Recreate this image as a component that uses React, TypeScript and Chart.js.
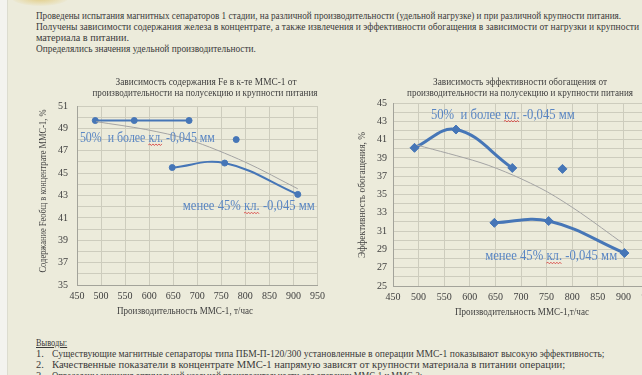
import { useEffect, useLayoutEffect, useRef } from 'react';
import { Chart, registerables } from 'chart.js';

Chart.register(...registerables);

// ---------- data ----------
const xMin = 450;
const xMax = 950;
const xStep = 50;

// Chart 1: Fe content in concentrate
const feYMin = 35;
const feYMax = 51;
const feCoarseX = [488, 569, 683];
const feCoarseY = [49.7, 49.7, 49.7];
const feFineX = [648, 757, 909];
const feFineY = [45.5, 45.9, 43.1];
const feOutlierX = [781];
const feOutlierY = [48.0];
const feTrendX = [490, 593, 682, 799, 909];
const feTrendY = [49.6, 48.9, 48.0, 46.0, 43.6];

// Chart 2: beneficiation efficiency
const effYMin = 25;
const effYMax = 45;
const effCoarseX = [492, 573, 683];
const effCoarseY = [40.1, 42.1, 37.9];
const effFineX = [648, 754, 902];
const effFineY = [31.9, 32.1, 28.6];
const effOutlierX = [781];
const effOutlierY = [37.8];
const effTrendX = [497, 620, 685, 751, 816, 898];
const effTrendY = [40.4, 38.5, 37.1, 35.3, 33.0, 29.7];

const labelCoarse = '50%  и более кл. -0,045 мм';
const labelFine = 'менее 45% кл. -0,045 мм';

// ---------- styles ----------
const FONT = "'Liberation Serif', 'Times New Roman', serif";
const BG = '#ecebdb';
const GRID = '#cdccbd';
const AXIS = '#a3a39a';
const TICK = '#3f3f3f';
const BLUE = '#4676b7';
const LABEL_BLUE = '#5a86c3';
const TREND = '#a4a4a4';
const TEXT = '#3a3a3a';

type Caption = {
  text: string;
  size: number;
  color: string;
  x?: number;
  y?: number;
  dataX?: number;
  dataY?: number;
  align?: CanvasTextAlign;
  maxWidth?: number;
  rotate?: boolean;
  squiggle?: string;
};

function captionPlugin(items: Caption[]) {
  return {
    id: 'captions',
    afterDraw(chart: any) {
      const ctx = chart.ctx as CanvasRenderingContext2D;
      for (const c of items) {
        let x = c.x ?? 0;
        let y = c.y ?? 0;
        if (c.dataX !== undefined && c.dataY !== undefined) {
          x = chart.scales.x.getPixelForValue(c.dataX);
          y = chart.scales.y.getPixelForValue(c.dataY);
        }
        ctx.save();
        ctx.font = `${c.size}px ${FONT}`;
        ctx.fillStyle = c.color;
        ctx.textAlign = c.align ?? 'center';
        ctx.textBaseline = 'middle';
        ctx.translate(x, y);
        if (c.rotate) ctx.rotate(-Math.PI / 2);
        if (c.maxWidth) ctx.fillText(c.text, 0, 0, c.maxWidth);
        else ctx.fillText(c.text, 0, 0);
        if (c.squiggle && (c.align ?? 'center') === 'left') {
          const idx = c.text.indexOf(c.squiggle);
          if (idx >= 0) {
            const natural = ctx.measureText(c.text).width;
            const k = c.maxWidth ? Math.min(1, c.maxWidth / natural) : 1;
            const x0 = ctx.measureText(c.text.slice(0, idx)).width * k;
            const x1 = x0 + ctx.measureText(c.squiggle).width * k;
            const yy = c.size * 0.45;
            ctx.strokeStyle = '#d9534f';
            ctx.lineWidth = 1;
            ctx.beginPath();
            let up = true;
            ctx.moveTo(x0, yy);
            for (let px = x0 + 1.5; px <= x1; px += 1.5) {
              ctx.lineTo(px, yy + (up ? -0.8 : 0.8));
              up = !up;
            }
            ctx.stroke();
          }
        }
        ctx.restore();
      }
    },
  };
}

const pts = (xs: number[], ys: number[]) => xs.map((x, i) => ({ x, y: ys[i] }));

type Spec = {
  yMin: number;
  yMax: number;
  coarse: { x: number; y: number }[];
  fine: { x: number; y: number }[];
  outlier: { x: number; y: number }[];
  trend: { x: number; y: number }[];
  lineWidth: number;
  pointStyle: string;
  pointRadius: number;
  padTop: number;
  padRight: number;
  yWidth: number;
  xHeight: number;
  yTickPad: number;
  captions: Caption[];
};

function buildConfig(s: Spec): any {
  const tickFont = { family: FONT, size: 10 };
  const series = (data: { x: number; y: number }[], showLine = true) => ({
    data,
    showLine,
    borderColor: BLUE,
    backgroundColor: BLUE,
    borderWidth: s.lineWidth,
    pointStyle: s.pointStyle,
    pointRadius: s.pointRadius,
    pointBorderWidth: 1,
    tension: 0.4,
    fill: false,
  });
  return {
    type: 'line',
    data: {
      datasets: [
        {
          data: s.trend,
          borderColor: TREND,
          borderWidth: 1,
          pointRadius: 0,
          tension: 0.3,
          fill: false,
        },
        series(s.coarse),
        series(s.fine),
        series(s.outlier, false),
      ],
    },
    options: {
      responsive: false,
      animation: false,
      devicePixelRatio: 1,
      events: [],
      layout: { padding: { top: s.padTop, right: s.padRight, left: 0, bottom: 0 } },
      plugins: {
        legend: { display: false },
        tooltip: { enabled: false },
        title: { display: false },
      },
      scales: {
        x: {
          type: 'linear',
          min: xMin,
          max: xMax,
          ticks: {
            stepSize: xStep,
            autoSkip: false,
            maxRotation: 0,
            padding: 5,
            color: TICK,
            font: tickFont,
          },
          grid: { color: GRID, drawTicks: false },
          border: { color: AXIS },
          afterFit: (sc: any) => {
            sc.height = s.xHeight;
          },
        },
        y: {
          type: 'linear',
          min: s.yMin,
          max: s.yMax,
          ticks: {
            stepSize: 1,
            autoSkip: false,
            padding: s.yTickPad,
            color: TICK,
            font: tickFont,
            callback: (v: number) => ((v - s.yMin) % 2 === 0 ? String(v) : ''),
          },
          grid: { color: GRID, drawTicks: false },
          border: { color: AXIS },
          afterFit: (sc: any) => {
            sc.width = s.yWidth;
          },
        },
      },
    },
    plugins: [captionPlugin(s.captions)],
  };
}

function ChartBox({ spec, left, top, width, height }: { spec: Spec; left: number; top: number; width: number; height: number }) {
  const ref = useRef<HTMLCanvasElement>(null);
  useEffect(() => {
    if (!ref.current) return;
    const chart = new Chart(ref.current, buildConfig(spec));
    return () => chart.destroy();
  }, [spec]);
  return (
    <canvas
      ref={ref}
      width={width}
      height={height}
      style={{ position: 'absolute', left, top, width, height }}
    />
  );
}

function FitLine({ text, left, top, width, size = 10.5, underline = false }: { text: string; left: number; top: number; width?: number; size?: number; underline?: boolean }) {
  const ref = useRef<HTMLSpanElement>(null);
  useLayoutEffect(() => {
    const fit = () => {
      const el = ref.current;
      if (!el || !width) return;
      el.style.transform = 'none';
      const w = el.offsetWidth;
      if (w > 0) el.style.transform = `scaleX(${width / w})`;
    };
    fit();
    if ((document as any).fonts?.ready) (document as any).fonts.ready.then(fit);
  }, [text, width]);
  return (
    <span
      ref={ref}
      style={{
        position: 'absolute',
        left,
        top,
        whiteSpace: 'pre',
        fontSize: size,
        lineHeight: '12px',
        transformOrigin: '0 50%',
        fontFamily: FONT,
        color: TEXT,
        textDecoration: underline ? 'underline' : 'none',
      }}
    >
      {text}
    </span>
  );
}

const feSpec: Spec = {
  yMin: feYMin,
  yMax: feYMax,
  coarse: pts(feCoarseX, feCoarseY),
  fine: pts(feFineX, feFineY),
  outlier: pts(feOutlierX, feOutlierY),
  trend: pts(feTrendX, feTrendY),
  lineWidth: 2,
  pointStyle: 'circle',
  pointRadius: 3,
  padTop: 36,
  padRight: 10,
  yWidth: 47,
  xHeight: 40,
  yTickPad: 9,
  captions: [
    { text: 'Зависимость содержания Fe в к-те ММС-1 от', size: 10.5, color: TICK, x: 176, y: 12, maxWidth: 181 },
    { text: 'производительности на полусекцию и крупности питания', size: 10.5, color: TICK, x: 175, y: 23, maxWidth: 225 },
    { text: 'Производительность ММС-1, т/час', size: 11, color: TICK, x: 155, y: 241, maxWidth: 136 },
    { text: 'Содержание Feобщ в концентрате ММС-1, %', size: 11, color: TICK, x: 13, y: 121, maxWidth: 163, rotate: true },
    { text: labelCoarse, size: 14, color: LABEL_BLUE, dataX: 456, dataY: 48.1, align: 'left', maxWidth: 135, squiggle: 'кл.' },
    { text: labelFine, size: 14, color: LABEL_BLUE, dataX: 670, dataY: 42.0, align: 'left', maxWidth: 132, squiggle: 'кл.' },
  ],
};

const effSpec: Spec = {
  yMin: effYMin,
  yMax: effYMax,
  coarse: pts(effCoarseX, effCoarseY),
  fine: pts(effFineX, effFineY),
  outlier: pts(effOutlierX, effOutlierY),
  trend: pts(effTrendX, effTrendY),
  lineWidth: 3,
  pointStyle: 'rectRot',
  pointRadius: 4.5,
  padTop: 33,
  padRight: 16,
  yWidth: 58,
  xHeight: 39,
  yTickPad: 6,
  captions: [
    { text: 'Зависимость эффективности обогащения от', size: 10.5, color: TICK, x: 185, y: 12, maxWidth: 174 },
    { text: 'производительности на полусекцию и крупности питания', size: 10.5, color: TICK, x: 185, y: 23, maxWidth: 226 },
    { text: 'Производительность ММС-1,т/час', size: 11, color: TICK, x: 187, y: 242, maxWidth: 134 },
    { text: 'Эффективность обогащения, %', size: 11, color: TICK, x: 27, y: 125, maxWidth: 126, rotate: true },
    { text: labelCoarse, size: 14, color: LABEL_BLUE, dataX: 524, dataY: 43.7, align: 'left', maxWidth: 144, squiggle: 'кл.' },
    { text: labelFine, size: 14, color: LABEL_BLUE, dataX: 630, dataY: 28.2, align: 'left', maxWidth: 132, squiggle: 'кл.' },
  ],
};

export default function App() {
  return (
    <div
      style={{
        position: 'fixed',
        left: 0,
        top: 0,
        width: 642,
        height: 375,
        overflow: 'hidden',
        background: BG,
        fontFamily: FONT,
      }}
    >
      <div style={{ position: 'absolute', left: 0, top: 0, width: 7, height: 375, background: '#f3f3ef', borderRight: '1px solid #dcdccf' }} />
      <div
        style={{
          position: 'absolute',
          left: 12,
          top: -9,
          width: 56,
          height: 15,
          borderRadius: '50%',
          background: 'radial-gradient(ellipse at center, rgba(224,200,120,0.85) 0%, rgba(230,215,160,0.5) 50%, rgba(236,235,219,0) 75%)',
        }}
      />

      <FitLine text="Проведены испытания магнитных сепараторов 1 стадии, на различной производительности (удельной нагрузке) и при различной крупности питания." left={36} top={10} width={585} />
      <FitLine text="Получены зависимости содержания железа в концентрате, а также извлечения и эффективности обогащения в зависимости от нагрузки и крупности" left={36} top={21} width={603} />
      <FitLine text="материала в питании." left={36} top={32} width={93} />
      <FitLine text="Определялись значения удельной производительности." left={36} top={43} width={220} />

      <ChartBox spec={feSpec} left={30} top={70} width={300} height={255} />
      <ChartBox spec={effSpec} left={335} top={70} width={330} height={255} />

      <FitLine text="Выводы:" left={36} top={337} width={31} underline />
      <FitLine text="1." left={36} top={348} />
      <FitLine text="Существующие магнитные сепараторы типа ПБМ-П-120/300 установленные в операции ММС-1 показывают высокую эффективность;" left={52} top={348} width={552} />
      <FitLine text="2." left={36} top={359} />
      <FitLine text="Качественные показатели в концентрате ММС-1 напрямую зависят от крупности материала в питании операции;" left={52} top={359} width={513} />
      <FitLine text="3." left={36} top={370} />
      <FitLine text="Определены значения оптимальной удельной производительности для операции ММС-1 и ММС-2;" left={52} top={370} width={370} />
    </div>
  );
}
